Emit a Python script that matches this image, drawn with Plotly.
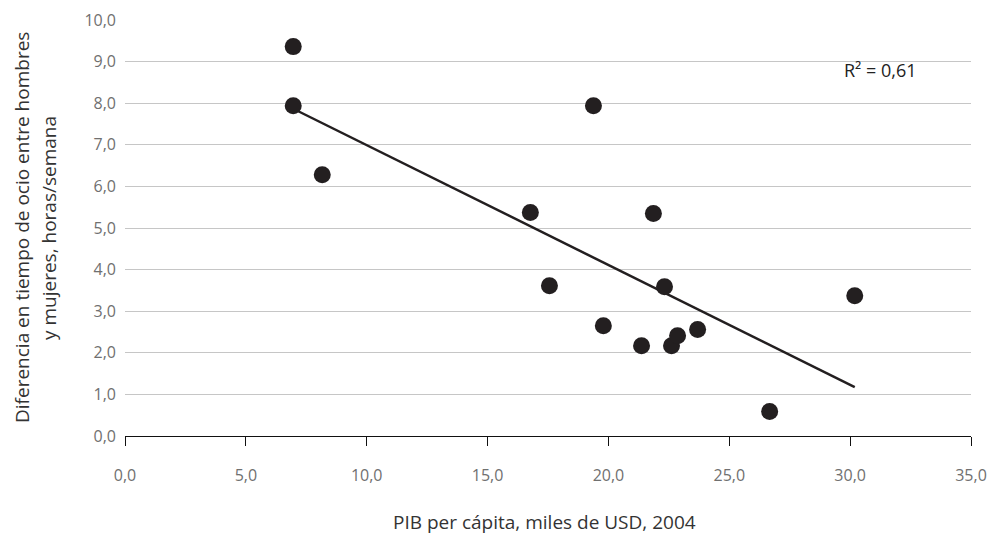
import numpy as np
import plotly.graph_objects as go

# Data
pib = [6.96, 6.96, 8.16, 19.38, 16.77, 21.86, 17.56, 22.32, 19.79, 21.37, 22.61, 22.86, 23.69, 26.67, 30.19]
ocio = [9.36, 7.94, 6.28, 7.94, 5.37, 5.35, 3.61, 3.59, 2.65, 2.17, 2.17, 2.41, 2.56, 0.59, 3.37]
x_ticks = [0, 5, 10, 15, 20, 25, 30, 35]
y_ticks = [0, 1, 2, 3, 4, 5, 6, 7, 8, 9, 10]
r2_label = "R² = 0,61"
x_title = "PIB per cápita, miles de USD, 2004"
y_title_lines = ["Diferencia en tiempo de ocio entre hombres", "y mujeres, horas/semana"]

def fmt(v):
    return f"{v:.1f}".replace(".", ",")

# Linear trend fitted to the points
slope, intercept = np.polyfit(pib, ocio, 1)
x_fit = np.array([min(pib), max(pib)])
y_fit = slope * x_fit + intercept

FONT = "Open Sans"
DARK = "#231f20"

fig = go.Figure()
fig.add_trace(go.Scatter(x=x_fit, y=y_fit, mode="lines",
                         line=dict(color=DARK, width=2.5), hoverinfo="skip",
                         showlegend=False))
fig.add_trace(go.Scatter(x=pib, y=ocio, mode="markers",
                         marker=dict(color=DARK, size=17), showlegend=False,
                         cliponaxis=False))

annotations = [
    dict(text=x_title, x=0.5, y=0, xref="paper", yref="paper",
         xanchor="center", yanchor="middle", showarrow=False,
         xshift=-4, yshift=-86,
         font=dict(family=FONT, size=19, color="#333333")),
    dict(text=r2_label, x=29.67, y=8.8, xref="x", yref="y",
         xanchor="left", yanchor="middle", showarrow=False,
         font=dict(family=FONT, size=18, color="#222222")),
]
for line, shift in zip(y_title_lines, [-103, -76]):
    annotations.append(dict(text=line, x=0, xref="paper", y=0.5, yref="paper",
                            textangle=-90, xanchor="center", yanchor="middle",
                            showarrow=False, xshift=shift,
                            font=dict(family=FONT, size=19, color="#333333")))

fig.update_layout(
    width=989, height=538,
    margin=dict(l=125, r=18, t=20, b=102, autoexpand=False),
    paper_bgcolor="white", plot_bgcolor="white",
    font=dict(family=FONT, color="#333333"),
    xaxis=dict(range=[0, 35], tickvals=x_ticks, ticktext=[fmt(v) for v in x_ticks],
               showgrid=False, zeroline=False, showline=True, linecolor="#111111",
               linewidth=1.3, ticks="outside", ticklen=9, tickwidth=1.3,
               tickcolor="#111111", ticklabelstandoff=16, automargin=False,
               tickfont=dict(family=FONT, size=16, color="#707070")),
    yaxis=dict(range=[0, 10], tickvals=y_ticks, ticktext=[fmt(v) for v in y_ticks],
               showgrid=True, gridcolor="#c6c6c6", gridwidth=1.3, zeroline=False,
               showline=False, ticks="", ticklabelstandoff=8, automargin=False,
               tickfont=dict(family=FONT, size=16, color="#707070")),
    annotations=annotations,
)

fig.write_html("out.html", config={"displayModeBar": False},
               post_script="document.body.style.margin='0';document.body.style.overflow='hidden';")
